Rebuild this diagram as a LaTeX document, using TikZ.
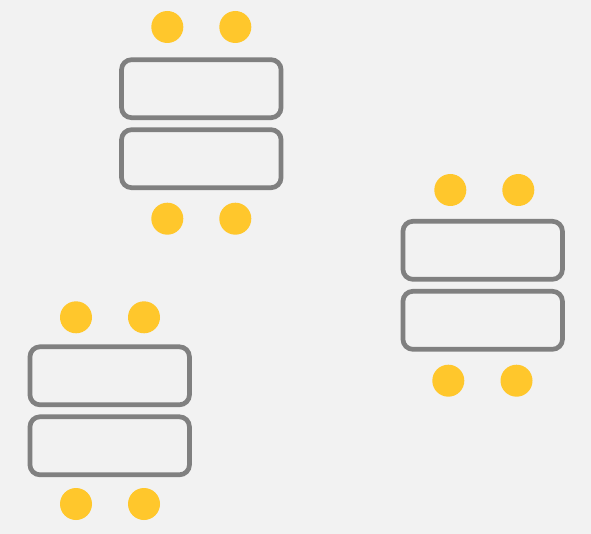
\documentclass[tikz,border=0pt]{standalone}
\usepackage{tikz}
\usetikzlibrary{positioning}
\definecolor{bgfloor}{HTML}{F2F2F2}
\definecolor{tablegray}{HTML}{808080}
\definecolor{chairyellow}{HTML}{FFC72C}
\tikzset{tablebox/.style={draw=tablegray, line width=4.7pt, rounded corners=10pt, minimum width=159.5pt, minimum height=58pt, inner sep=0pt, outer sep=0pt}}
\tikzset{chair/.style={circle, fill=chairyellow, minimum size=32pt, inner sep=0pt, outer sep=0pt}}

\begin{document}
\begin{tikzpicture}[x=1pt, y=1pt]
	\fill[bgfloor] (0,0) rectangle (591,-534);
	\useasboundingbox (0,0) rectangle (591,-534);
	% top group
	\node[tablebox] (t1a) at (201.3,-88.7) {};
	\node[tablebox, below=12pt of t1a] (t1b) {};
	\node[chair] (c1a) at (167.3,-27) {};
	\node[chair] (c1b) at (235.3,-27) {};
	\node[chair] (c1c) at (167.3,-218.7) {};
	\node[chair] (c1d) at (235.3,-218.7) {};
	% right group
	\node[tablebox] (t2a) at (482.7,-250.3) {};
	\node[tablebox, below=12pt of t2a] (t2b) {};
	\node[chair] (c2a) at (450.3,-190) {};
	\node[chair] (c2b) at (518.3,-190) {};
	\node[chair] (c2c) at (448.3,-380.7) {};
	\node[chair] (c2d) at (516.5,-380.7) {};
	% bottom left group
	\node[tablebox] (t3a) at (109.7,-375.8) {};
	\node[tablebox, below=12pt of t3a] (t3b) {};
	\node[chair] (c3a) at (76,-317.3) {};
	\node[chair] (c3b) at (144,-317.3) {};
	\node[chair] (c3c) at (76,-504) {};
	\node[chair] (c3d) at (144,-504) {};
\end{tikzpicture}
\end{document}
